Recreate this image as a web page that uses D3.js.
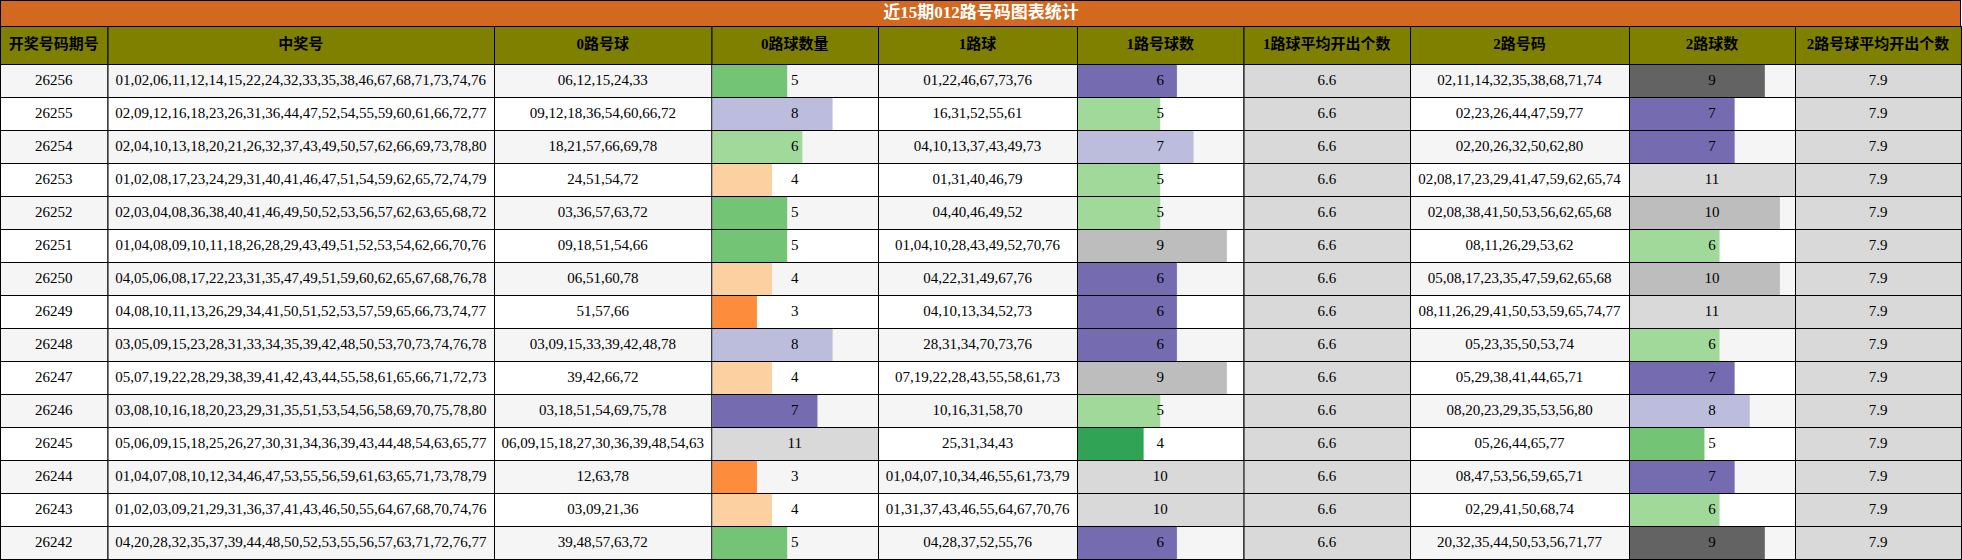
<!DOCTYPE html>
<html><head><meta charset="utf-8">
<script src="https://cdn.jsdelivr.net/npm/d3@7/dist/d3.min.js"></script>
<style>body{margin:0;background:#fff}</style></head>
<body><svg id="c" width="1962" height="560"></svg>
<script>
const title = "近15期012路号码图表统计";
const headers = ["开奖号码期号","中奖号","0路号球","0路球数量","1路球","1路号球数","1路球平均开出个数","2路号码","2路球数","2路号球平均开出个数"];
const periods = ["26256","26255","26254","26253","26252","26251","26250","26249","26248","26247","26246","26245","26244","26243","26242"];
const winning = [
"01,02,06,11,12,14,15,22,24,32,33,35,38,46,67,68,71,73,74,76",
"02,09,12,16,18,23,26,31,36,44,47,52,54,55,59,60,61,66,72,77",
"02,04,10,13,18,20,21,26,32,37,43,49,50,57,62,66,69,73,78,80",
"01,02,08,17,23,24,29,31,40,41,46,47,51,54,59,62,65,72,74,79",
"02,03,04,08,36,38,40,41,46,49,50,52,53,56,57,62,63,65,68,72",
"01,04,08,09,10,11,18,26,28,29,43,49,51,52,53,54,62,66,70,76",
"04,05,06,08,17,22,23,31,35,47,49,51,59,60,62,65,67,68,76,78",
"04,08,10,11,13,26,29,34,41,50,51,52,53,57,59,65,66,73,74,77",
"03,05,09,15,23,28,31,33,34,35,39,42,48,50,53,70,73,74,76,78",
"05,07,19,22,28,29,38,39,41,42,43,44,55,58,61,65,66,71,72,73",
"03,08,10,16,18,20,23,29,31,35,51,53,54,56,58,69,70,75,78,80",
"05,06,09,15,18,25,26,27,30,31,34,36,39,43,44,48,54,63,65,77",
"01,04,07,08,10,12,34,46,47,53,55,56,59,61,63,65,71,73,78,79",
"01,02,03,09,21,29,31,36,37,41,43,46,50,55,64,67,68,70,74,76",
"04,20,28,32,35,37,39,44,48,50,52,53,55,56,57,63,71,72,76,77"];
const road0 = ["06,12,15,24,33","09,12,18,36,54,60,66,72","18,21,57,66,69,78","24,51,54,72","03,36,57,63,72","09,18,51,54,66","06,51,60,78","51,57,66","03,09,15,33,39,42,48,78","39,42,66,72","03,18,51,54,69,75,78","06,09,15,18,27,30,36,39,48,54,63","12,63,78","03,09,21,36","39,48,57,63,72"];
const count0 = [5,8,6,4,5,5,4,3,8,4,7,11,3,4,5];
const road1 = ["01,22,46,67,73,76","16,31,52,55,61","04,10,13,37,43,49,73","01,31,40,46,79","04,40,46,49,52","01,04,10,28,43,49,52,70,76","04,22,31,49,67,76","04,10,13,34,52,73","28,31,34,70,73,76","07,19,22,28,43,55,58,61,73","10,16,31,58,70","25,31,34,43","01,04,07,10,34,46,55,61,73,79","01,31,37,43,46,55,64,67,70,76","04,28,37,52,55,76"];
const count1 = [6,5,7,5,5,9,6,6,6,9,5,4,10,10,6];
const avg1 = "6.6";
const road2 = ["02,11,14,32,35,38,68,71,74","02,23,26,44,47,59,77","02,20,26,32,50,62,80","02,08,17,23,29,41,47,59,62,65,74","02,08,38,41,50,53,56,62,65,68","08,11,26,29,53,62","05,08,17,23,35,47,59,62,65,68","08,11,26,29,41,50,53,59,65,74,77","05,23,35,50,53,74","05,29,38,41,44,65,71","08,20,23,29,35,53,56,80","05,26,44,65,77","08,47,53,56,59,65,71","02,29,41,50,68,74","20,32,35,44,50,53,56,71,77"];
const count2 = [9,7,7,11,10,6,10,11,6,7,8,5,7,6,9];
const avg2 = "7.9";
const colors0 = {3:"#fd8d3c",4:"#fdd0a2",5:"#74c476",6:"#a1d99b",7:"#756bb1",8:"#bcbddc",11:"#d9d9d9"};
const colors1 = {4:"#31a354",5:"#a1d99b",6:"#756bb1",7:"#bcbddc",9:"#bdbdbd",10:"#d9d9d9"};
const colors2 = {5:"#74c476",6:"#a1d99b",7:"#756bb1",8:"#bcbddc",9:"#636363",10:"#bdbdbd",11:"#d9d9d9"};

const svg = d3.select("#c");
const edges = [0,107.5,494,711.5,878,1077,1243.5,1410,1629,1795,1961];
const titleH = 26, headH = 38, rowH = (560-1-titleH-headH)/15;
const y = d3.scaleBand().domain(periods).range([titleH+headH, titleH+headH+15*rowH]);
const font = "'Liberation Serif', 'Noto Sans CJK SC', serif";

svg.append("rect").attr("x",0.5).attr("y",0.5).attr("width",1960).attr("height",titleH).attr("fill","#d2691e").attr("stroke","#000");
svg.append("text").attr("x",981).attr("y",titleH/2+1).attr("text-anchor","middle").attr("dominant-baseline","middle")
  .attr("fill","#fff").attr("font-weight","bold").attr("font-size",17).attr("font-family",font).text(title);

headers.forEach((h,i)=>{
  svg.append("rect").attr("x",edges[i]+0.5).attr("y",titleH+0.5).attr("width",edges[i+1]-edges[i]).attr("height",headH)
    .attr("fill","#808000").attr("stroke","#000");
  svg.append("text").attr("x",(edges[i]+edges[i+1])/2).attr("y",titleH+headH/2+1).attr("text-anchor","middle")
    .attr("dominant-baseline","middle").attr("font-weight","bold").attr("font-size",15).attr("font-family",font).text(h);
});

const bars = {3:[count0,colors0],5:[count1,colors1],8:[count2,colors2]};
const xs = {};
[3,5,8].forEach(c=>{xs[c]=d3.scaleLinear().domain([0,d3.max(bars[c][0])]).range([edges[c],edges[c+1]]);});

periods.forEach((p,r)=>{
  const y0 = y(p);
  const bg = r%2===0 ? "#f5f5f5" : "#ffffff";
  const vals = [p,winning[r],road0[r],count0[r],road1[r],count1[r],avg1,road2[r],count2[r],avg2];
  vals.forEach((v,i)=>{
    const x0=edges[i], w=edges[i+1]-edges[i];
    svg.append("rect").attr("x",x0+0.5).attr("y",y0+0.5).attr("width",w).attr("height",rowH)
      .attr("fill", (i===6||i===9)?"#d9d9d9":bg).attr("stroke","#000").attr("stroke-width",1);
    if (bars[i]) {
      const [cnt,cols]=bars[i];
      svg.append("rect").attr("x",x0+1).attr("y",y0+1).attr("width",xs[i](cnt[r])-x0-1).attr("height",rowH-1)
        .attr("fill",cols[cnt[r]]);
    }
    svg.append("text").attr("x",x0+w/2).attr("y",y0+rowH/2+1).attr("text-anchor","middle").attr("dominant-baseline","middle")
      .attr("font-size",15).attr("font-family",font).attr("fill","#000").text(v);
  });
});
</script></body></html>
